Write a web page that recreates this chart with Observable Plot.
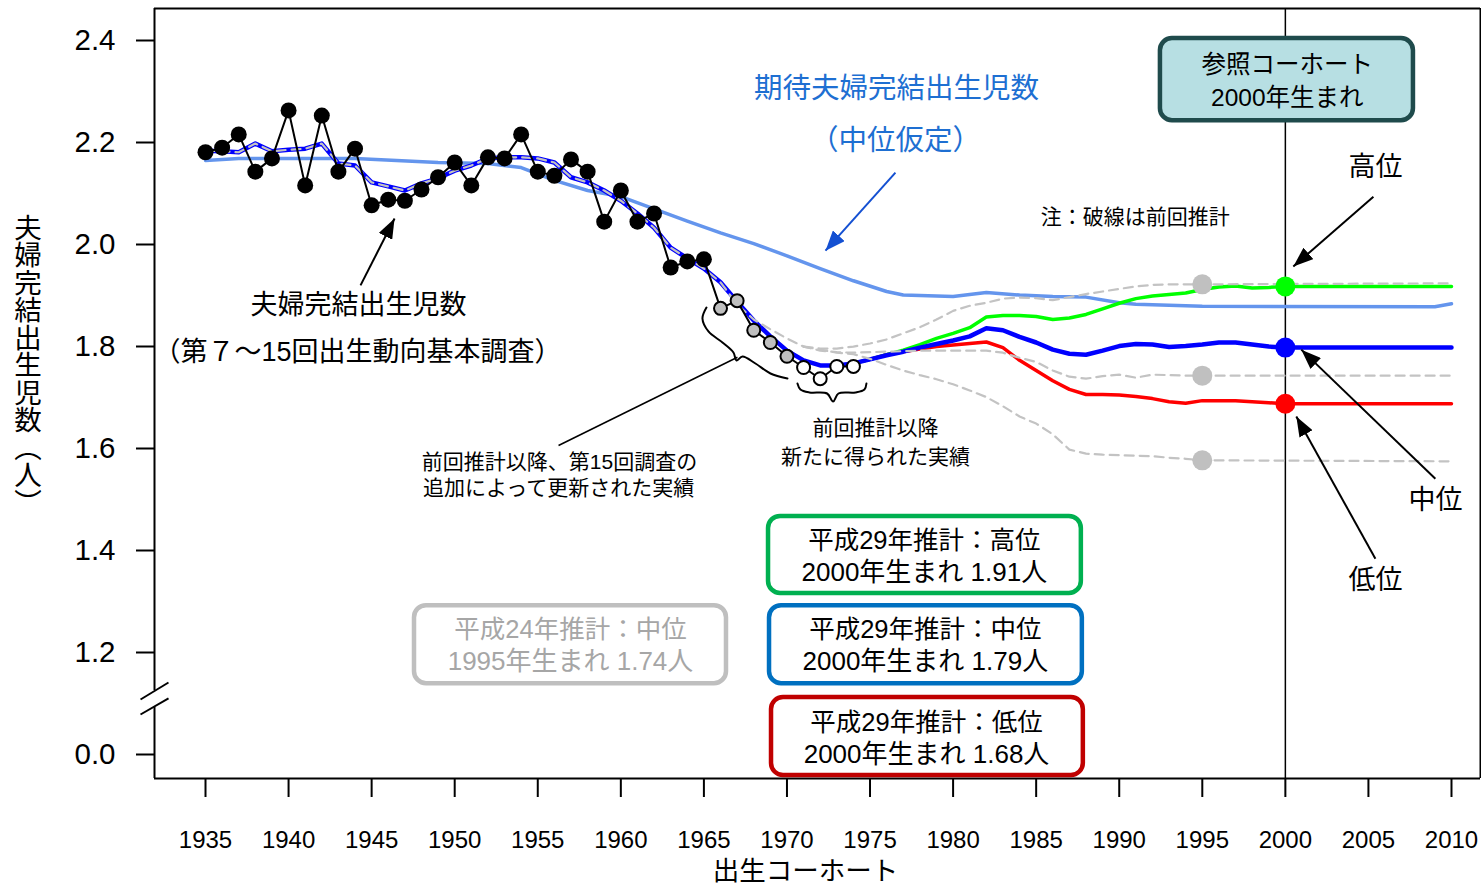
<!DOCTYPE html>
<html><head><meta charset="utf-8">
<script src="https://cdn.jsdelivr.net/npm/d3@7"></script>
<script src="https://cdn.jsdelivr.net/npm/@observablehq/plot@0.6"></script>
<style>html,body{margin:0;padding:0;background:#fff;overflow:hidden}</style>
</head><body><div id="chart"></div>
<script>
// ---------- data ----------
const xTicks = [1935,1940,1945,1950,1955,1960,1965,1970,1975,1980,1985,1990,1995,2000,2005,2010];
const yTicks = [1.0,1.2,1.4,1.6,1.8,2.0,2.2,2.4];
const yTickLabels = ["0.0","1.2","1.4","1.6","1.8","2.0","2.2","2.4"];

// 夫婦完結出生児数（第7～15回出生動向基本調査）
const surveyYears = [1935,1936,1937,1938,1939,1940,1941,1942,1943,1944,1945,1946,1947,1948,1949,1950,1951,1952,1953,1954,1955,1956,1957,1958,1959,1960,1961,1962,1963,1964,1965];
const surveyValues = [2.173,2.182,2.208,2.135,2.161,2.255,2.108,2.245,2.135,2.180,2.069,2.080,2.078,2.100,2.124,2.153,2.108,2.163,2.161,2.208,2.135,2.127,2.159,2.135,2.037,2.098,2.037,2.053,1.947,1.959,1.963];
// 前回推計以降、第15回調査の追加によって更新された実績
const updatedYears = [1966,1967,1968,1969,1970];
const updatedValues = [1.867,1.882,1.824,1.800,1.773];
// 前回推計以降新たに得られた実績
const newYears = [1971,1972,1973,1974];
const newValues = [1.751,1.729,1.753,1.753];

// 期待夫婦完結出生児数（中位仮定）
const expectedYears = [1935,1937,1944,1949,1952,1954,1956,1958,1960,1962,1964,1966,1968,1970,1972,1974,1976,1977,1980,1982,1984,1986,1988,1990,1991,1995,2009,2010];
const expectedValues = [2.157,2.161,2.161,2.153,2.151,2.143,2.118,2.098,2.086,2.062,2.038,2.015,1.994,1.970,1.945,1.921,1.900,1.893,1.890,1.898,1.893,1.890,1.889,1.878,1.875,1.871,1.870,1.876];

// 平成29年推計 中位
const midYears = [1935,1936,1937,1938,1939,1940,1941,1942,1943,1944,1945,1946,1947,1948,1949,1950,1951,1952,1953,1954,1955,1956,1957,1958,1959,1960,1961,1962,1963,1964,1965,1966,1967,1968,1969,1970,1971,1972,1973,1974,1975,1976,1977,1978,1979,1980,1981,1982,1983,1984,1985,1986,1987,1988,1989,1990,1991,1992,1993,1994,1995,1996,1997,1998,1999,2000,2010];
const midValues = [2.176,2.175,2.173,2.190,2.175,2.178,2.180,2.190,2.151,2.147,2.114,2.106,2.098,2.112,2.122,2.137,2.147,2.161,2.163,2.163,2.161,2.153,2.124,2.114,2.098,2.078,2.053,2.025,1.986,1.965,1.945,1.918,1.880,1.843,1.812,1.784,1.765,1.755,1.755,1.759,1.767,1.775,1.782,1.790,1.797,1.804,1.812,1.828,1.824,1.811,1.800,1.786,1.778,1.776,1.784,1.793,1.797,1.796,1.791,1.793,1.796,1.800,1.800,1.796,1.792,1.79,1.79];
// 平成29年推計 高位
const highYears = [1974,1975,1976,1977,1978,1979,1980,1981,1982,1983,1984,1985,1986,1987,1988,1989,1990,1991,1992,1993,1994,1995,1996,1997,1998,1999,2000,2010];
const highValues = [1.759,1.767,1.776,1.785,1.796,1.808,1.818,1.829,1.850,1.853,1.853,1.851,1.845,1.848,1.855,1.866,1.877,1.886,1.891,1.894,1.897,1.904,1.909,1.911,1.907,1.908,1.91,1.91];
// 平成29年推計 低位
const lowYears = [1974,1975,1976,1977,1978,1979,1980,1981,1982,1983,1984,1985,1986,1987,1988,1989,1990,1991,1992,1993,1994,1995,1996,1997,1998,1999,2000,2010];
const lowValues = [1.759,1.767,1.776,1.782,1.787,1.792,1.795,1.798,1.801,1.790,1.765,1.745,1.725,1.708,1.698,1.698,1.697,1.694,1.690,1.684,1.681,1.686,1.686,1.686,1.684,1.682,1.68,1.68];

// 平成24年推計（前回推計、破線）
const prevMidYears = [1935,1936,1937,1938,1939,1940,1941,1942,1943,1944,1945,1946,1947,1948,1949,1950,1951,1952,1953,1954,1955,1956,1957,1958,1959,1960,1961,1962,1963,1964,1965,1966,1967,1968,1969,1970,1971,1972,1973,1974,1975,1976,1977,1978,1979,1980,1981,1982,1983,1984,1985,1986,1987,1988,1989,1990,1991,1992,1993,1994,1995,2010];
const prevMidValues = [2.176,2.175,2.173,2.190,2.175,2.178,2.180,2.190,2.151,2.147,2.114,2.106,2.098,2.112,2.122,2.137,2.147,2.161,2.163,2.163,2.161,2.153,2.124,2.114,2.098,2.078,2.053,2.025,1.986,1.965,1.945,1.918,1.875,1.845,1.826,1.808,1.792,1.784,1.781,1.780,1.781,1.782,1.783,1.784,1.784,1.784,1.784,1.784,1.780,1.770,1.762,1.745,1.733,1.729,1.734,1.737,1.731,1.737,1.736,1.735,1.735,1.735];
const prevHighYears = [1971,1972,1973,1974,1975,1976,1977,1978,1979,1980,1981,1982,1983,1984,1985,1986,1987,1988,1989,1990,1991,1992,1993,1994,1995,2010];
const prevHighValues = [1.792,1.788,1.788,1.792,1.798,1.806,1.818,1.830,1.845,1.862,1.872,1.878,1.886,1.888,1.887,1.883,1.889,1.895,1.900,1.905,1.910,1.913,1.914,1.914,1.914,1.916];
const prevLowYears = [1971,1972,1973,1974,1975,1976,1977,1978,1979,1980,1981,1982,1983,1984,1985,1986,1987,1988,1989,1990,1991,1992,1993,1994,1995,2010];
const prevLowValues = [1.792,1.786,1.780,1.777,1.768,1.756,1.745,1.736,1.728,1.718,1.706,1.693,1.675,1.655,1.641,1.620,1.590,1.582,1.580,1.579,1.578,1.577,1.574,1.572,1.569,1.567];

const refYear = 2000;
const refValues = [1.91, 1.79, 1.68];
const refColors = ["#00ff00", "#0000ff", "#ff0000"];
const prevRefYear = 1995;
const prevRefValues = [1.914, 1.735, 1.569];

// ---------- helpers ----------
const zip = (xs, ys) => xs.map((x, i) => ({x, y: ys[i]}));
const X0 = 1931.930, X1 = 2011.746, Y0 = 0.9451, Y1 = 2.4549;
const FONT = '"Liberation Sans", Arial, "Noto Sans CJK JP", sans-serif';

function arrowHead(len, wid) {
  return (color) => {
    const ns = "http://www.w3.org/2000/svg";
    const m = document.createElementNS(ns, "marker");
    m.setAttribute("viewBox", `0 ${-wid / 2} ${len} ${wid}`);
    m.setAttribute("markerWidth", len);
    m.setAttribute("markerHeight", wid);
    m.setAttribute("markerUnits", "userSpaceOnUse");
    m.setAttribute("refX", len);
    m.setAttribute("refY", 0);
    m.setAttribute("orient", "auto");
    const p = document.createElementNS(ns, "path");
    p.setAttribute("d", `M0,${-wid / 2}L${len},0L0,${wid / 2}Z`);
    p.setAttribute("fill", color);
    p.setAttribute("stroke", "none");
    m.appendChild(p);
    return m;
  };
}

const dash = {stroke: "#c3c3c3", strokeWidth: 2.2, strokeDasharray: "9,6"};

const braceLeft = [[1965.154,1.8686],[1964.913,1.8471],[1965.274,1.8216],[1966.117,1.8000],[1966.779,1.7804],[1966.959,1.7647],[1967.321,1.7725],[1968.103,1.7588],[1969.006,1.7392],[1970.029,1.7294]];
const braceRight = [[1970.631,1.7196],[1970.811,1.7078],[1971.353,1.7020],[1972.416,1.7000],[1972.777,1.6843],[1973.098,1.7000],[1974.121,1.7020],[1974.663,1.7078],[1974.784,1.7196]];

const boxes = [
  {x1:1968.89, x2:1987.72, y1:1.308, y2:1.459, c:"#00b050", l1:"平成29年推計：高位", l2:"2000年生まれ 1.91人", ty1:1.412, ty2:1.349, tx:1978.27, tc:"#000"},
  {x1:1968.95, x2:1987.78, y1:1.131, y2:1.284, c:"#0070c0", l1:"平成29年推計：中位", l2:"2000年生まれ 1.79人", ty1:1.237, ty2:1.175, tx:1978.33, tc:"#000"},
  {x1:1969.07, x2:1987.84, y1:0.951, y2:1.104, c:"#c00000", l1:"平成29年推計：低位", l2:"2000年生まれ 1.68人", ty1:1.055, ty2:0.992, tx:1978.40, tc:"#000"},
  {x1:1947.58, x2:1966.36, y1:1.131, y2:1.284, c:"#bfbfbf", l1:"平成24年推計：中位", l2:"1995年生まれ 1.74人", ty1:1.237, ty2:1.175, tx:1956.97, tc:"#a6a6a6"}
];

const chart = Plot.plot({
  width: 1481, height: 888,
  marginLeft: 154, marginRight: 1, marginTop: 8, marginBottom: 110,
  x: {domain: [X0, X1]},
  y: {domain: [Y0, Y1]},
  style: {fontFamily: FONT, background: "#fff", color: "#000"},
  marks: [
    // frame with axis break
    Plot.ruleX([X0], {y1: 1.1176, y2: Y1, stroke: "#000", strokeWidth: 2}),
    Plot.ruleX([X0], {y1: Y0, y2: 1.0843, stroke: "#000", strokeWidth: 2}),
    Plot.ruleX([X1], {y1: Y0, y2: Y1, stroke: "#000", strokeWidth: 2}),
    Plot.ruleY([Y0], {x1: X0, x2: X1, stroke: "#000", strokeWidth: 2}),
    Plot.ruleY([Y1], {x1: X0, x2: X1, stroke: "#000", strokeWidth: 2}),
    Plot.link([{a:1931.088,b:1.1000,c:1932.773,d:1.1333},{a:1931.088,b:1.0706,c:1932.773,d:1.1020}], {x1:"a", y1:"b", x2:"c", y2:"d", stroke:"#000", strokeWidth:2}),
    Plot.axisX(xTicks, {tickSize: 19, tickPadding: 33, fontSize: 24, strokeWidth: 2, tickFormat: d => String(d), label: null}),
    Plot.axisY(yTicks, {tickSize: 18, tickPadding: 21, fontSize: 29.5, strokeWidth: 2, dy: 4, tickFormat: d => yTickLabels[yTicks.indexOf(d)], label: null}),
    Plot.text(["出生コーホート"], {x: 1971.11, y: 0.7628, text: d => d, fontSize: 26.5}),
    Plot.text(["夫婦完結出生児数（人）"], {x: 1924.165, y: 1.7735, text: d => d, fontSize: 27.5, className: "ylab"}),

    // reference vertical line
    Plot.ruleX([refYear], {y1: Y0, y2: Y1, stroke: "#000", strokeWidth: 1.5}),

    // series
    Plot.line(zip(expectedYears, expectedValues), {x: "x", y: "y", stroke: "#6495ed", strokeWidth: 3.5}),
    Plot.line(zip(lowYears, lowValues), {x: "x", y: "y", stroke: "#ff0000", strokeWidth: 3.5}),
    Plot.line(zip(highYears, highValues), {x: "x", y: "y", stroke: "#00ff00", strokeWidth: 3.5}),
    Plot.line(zip(midYears, midValues), {x: "x", y: "y", stroke: "#0000ff", strokeWidth: 4.5}),
    Plot.line(zip(prevMidYears, prevMidValues), {x: "x", y: "y", ...dash}),
    Plot.line(zip(prevHighYears, prevHighValues), {x: "x", y: "y", ...dash}),
    Plot.line(zip(prevLowYears, prevLowValues), {x: "x", y: "y", ...dash}),

    Plot.line(zip([...surveyYears, ...updatedYears, ...newYears], [...surveyValues, ...updatedValues, ...newValues]), {x: "x", y: "y", stroke: "#000", strokeWidth: 2}),
    Plot.dot(zip(surveyYears, surveyValues), {x: "x", y: "y", r: 8, fill: "#000"}),
    Plot.dot(zip(updatedYears, updatedValues), {x: "x", y: "y", r: 6.5, fill: "#bfbfbf", stroke: "#000", strokeWidth: 2}),
    Plot.dot(zip(newYears, newValues), {x: "x", y: "y", r: 6.5, fill: "#fff", stroke: "#000", strokeWidth: 2}),

    Plot.dot(prevRefValues, {x: () => prevRefYear, y: d => d, r: 10, fill: "#c0c0c0"}),
    Plot.dot(refValues.map((v, i) => ({v, c: refColors[i]})), {x: () => refYear, y: "v", r: 10, fill: d => d.c}),

    // annotations
    Plot.text(["期待夫婦完結出生児数", "（中位仮定）"], {x: [1976.59, 1976.53], y: [2.298, 2.196], text: d => d, fontSize: 28.5, fill: "#1e6fd2"}),
    Plot.link([0], {x1: 1976.53, y1: 2.133, x2: 1972.32, y2: 1.980, stroke: "#1450d2", strokeWidth: 2, markerEnd: arrowHead(20, 16)}),
    Plot.text(["注：破線は前回推計"], {x: 1990.97, y: 2.045, text: d => d, fontSize: 21}),
    Plot.text(["高位", "中位", "低位", "夫婦完結出生児数", "（第７～15回出生動向基本調査）"],
      {x: [2005.42, 2009.03, 2005.42, 1944.21, 1944.15], y: [2.143, 1.490, 1.333, 1.873, 1.780], text: d => d, fontSize: 27}),
    Plot.link([
      {a: 2005.30, b: 2.086, c: 2000.48, d: 1.949},
      {a: 2009.03, b: 1.533, c: 2000.96, d: 1.786},
      {a: 2005.42, b: 1.376, c: 2000.66, d: 1.655},
      {a: 1944.33, b: 1.912, c: 1946.38, d: 2.043}
    ], {x1: "a", y1: "b", x2: "c", y2: "d", stroke: "#000", strokeWidth: 2, markerEnd: arrowHead(20, 15)}),
    Plot.text(["前回推計以降、第15回調査の", "追加によって更新された実績", "前回推計以降", "新たに得られた実績"],
      {x: [1956.31, 1956.25, 1975.33, 1975.33], y: [1.565, 1.514, 1.631, 1.575], text: d => d, fontSize: 21}),
    Plot.link([0], {x1: 1956.25, y1: 1.598, x2: 1967.02, y2: 1.771, stroke: "#000", strokeWidth: 1.5}),
    Plot.line(braceLeft, {x: d => d[0], y: d => d[1], stroke: "#000", strokeWidth: 2, curve: "catmull-rom"}),
    Plot.line(braceRight, {x: d => d[0], y: d => d[1], stroke: "#000", strokeWidth: 2, curve: "catmull-rom"}),

    // boxes
    Plot.rect([0], {x1: 1992.48, x2: 2007.71, y1: 2.235, y2: 2.396, fill: "#b7dfe3", stroke: "#1f4b4c", strokeWidth: 4.5, className: "rbox"}),
    Plot.text(["参照コーホート", "2000年生まれ"], {x: [2000.12, 2000.12], y: [2.343, 2.280], text: d => d, fontSize: 24.5}),
    Plot.rect(boxes, {x1: "x1", x2: "x2", y1: "y1", y2: "y2", fill: "#fff", stroke: d => d.c, strokeWidth: 4.5, className: "rbox"}),
    Plot.text(boxes, {x: "tx", y: "ty1", text: "l1", fontSize: 25.5, fill: d => d.tc}),
    Plot.text(boxes, {x: "tx", y: "ty2", text: "l2", fontSize: 26, fill: d => d.tc})
  ]
});

chart.querySelectorAll(".rbox rect").forEach(r => { r.setAttribute("rx", 12); r.setAttribute("ry", 12); });
chart.querySelectorAll(".ylab text").forEach(t => { t.style.writingMode = "vertical-rl"; t.setAttribute("dy", "0"); });
document.getElementById("chart").appendChild(chart);
</script>
</body></html>
